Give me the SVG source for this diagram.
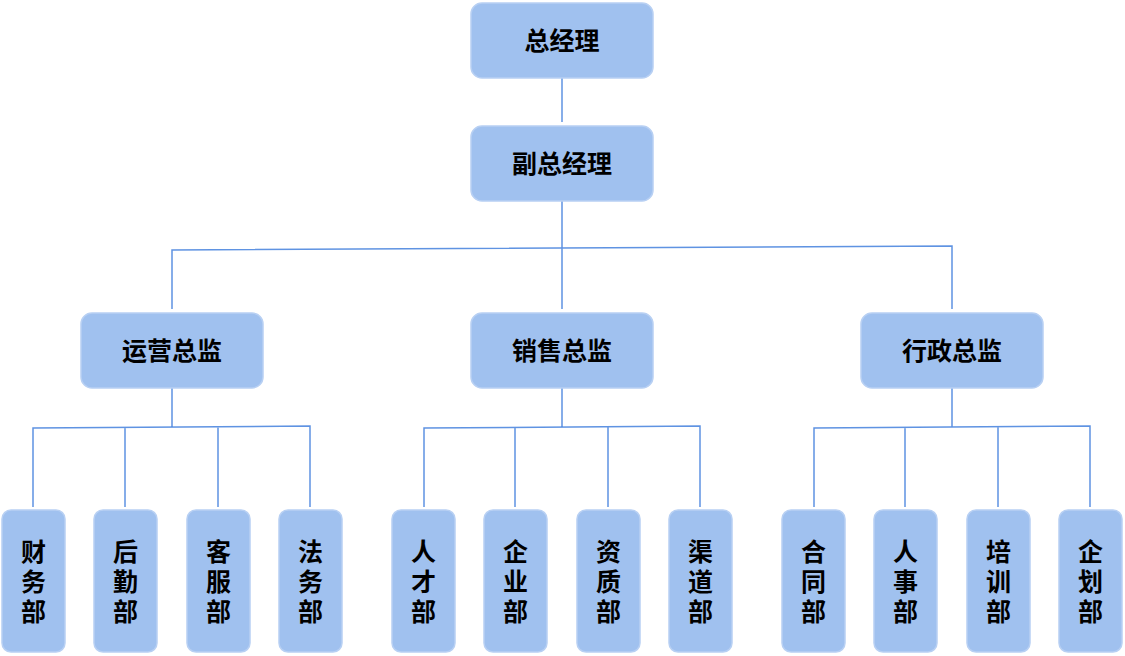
<svg xmlns="http://www.w3.org/2000/svg" width="1125" height="656" viewBox="0 0 1125 656">
<style>
.box{fill:#A0C1EF;stroke:#B8D0F3;stroke-width:1.5}
.t{font-family:"Noto Sans CJK SC","Noto Sans",sans-serif;font-weight:bold;font-size:25px;fill:#000;text-anchor:middle}
.v{font-family:"Noto Sans CJK SC","Noto Sans",sans-serif;font-weight:bold;font-size:25px;fill:#000;text-anchor:middle;writing-mode:vertical-rl;letter-spacing:5px}
.c{fill:none;stroke:#5F93E2;stroke-width:1.5}
</style>
<rect width="1125" height="656" fill="#fff"/>
<g id="connectors">
<path class="c" d="M562 78V122"/>
<path class="c" d="M562 201V309M172 309V250L952 246V309"/>
<path class="c" d="M172 388V427M33 507V428L310 426V507M125 428V507M218 427V507"/>
<path class="c" d="M562 388V427M424 507V428L700 426V507M515 428V507M608 427V507"/>
<path class="c" d="M952 388V427M814 507V428L1090 426V507M905 428V507M998 427V507"/>
</g>
<g id="n0"><rect class="box" x="471" y="3" width="182" height="75" rx="11"/><text class="t" x="562" y="50">总经理</text></g>
<g id="n1"><rect class="box" x="471" y="126" width="182" height="75" rx="11"/><text class="t" x="562" y="173">副总经理</text></g>
<g id="n2"><rect class="box" x="81" y="313" width="182" height="75" rx="11"/><text class="t" x="172" y="360">运营总监</text></g>
<g id="n3"><rect class="box" x="471" y="313" width="182" height="75" rx="11"/><text class="t" x="562" y="360">销售总监</text></g>
<g id="n4"><rect class="box" x="861" y="313" width="182" height="75" rx="11"/><text class="t" x="952" y="360">行政总监</text></g>
<g id="l1"><rect class="box" x="2" y="510" width="63" height="142" rx="9"/><text class="v" x="33.5" y="584">财务部</text></g>
<g id="l2"><rect class="box" x="94" y="510" width="63" height="142" rx="9"/><text class="v" x="125.5" y="584">后勤部</text></g>
<g id="l3"><rect class="box" x="187" y="510" width="63" height="142" rx="9"/><text class="v" x="218.5" y="584">客服部</text></g>
<g id="l4"><rect class="box" x="279" y="510" width="63" height="142" rx="9"/><text class="v" x="310.5" y="584">法务部</text></g>
<g id="l5"><rect class="box" x="392" y="510" width="63" height="142" rx="9"/><text class="v" x="423.5" y="584">人才部</text></g>
<g id="l6"><rect class="box" x="484" y="510" width="63" height="142" rx="9"/><text class="v" x="515.5" y="584">企业部</text></g>
<g id="l7"><rect class="box" x="577" y="510" width="63" height="142" rx="9"/><text class="v" x="608.5" y="584">资质部</text></g>
<g id="l8"><rect class="box" x="669" y="510" width="63" height="142" rx="9"/><text class="v" x="700.5" y="584">渠道部</text></g>
<g id="l9"><rect class="box" x="782" y="510" width="63" height="142" rx="9"/><text class="v" x="813.5" y="584">合同部</text></g>
<g id="l10"><rect class="box" x="874" y="510" width="63" height="142" rx="9"/><text class="v" x="905.5" y="584">人事部</text></g>
<g id="l11"><rect class="box" x="967" y="510" width="63" height="142" rx="9"/><text class="v" x="998.5" y="584">培训部</text></g>
<g id="l12"><rect class="box" x="1059" y="510" width="63" height="142" rx="9"/><text class="v" x="1090.5" y="584">企划部</text></g>
</svg>
